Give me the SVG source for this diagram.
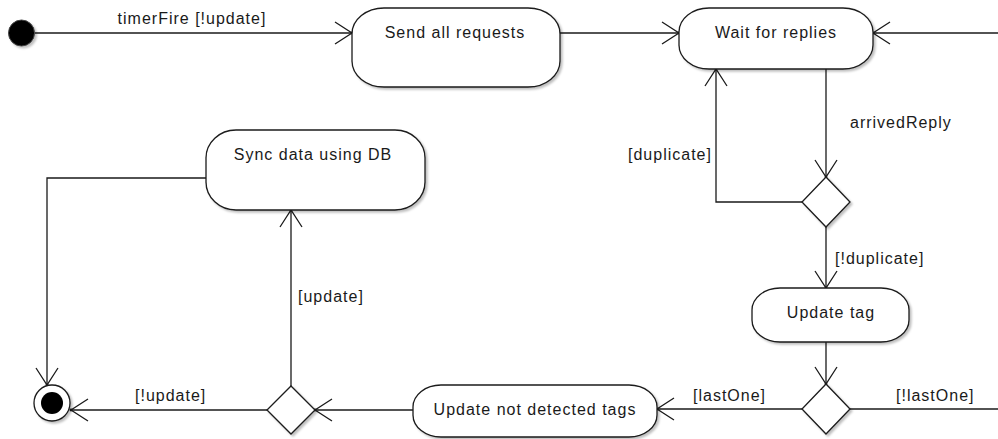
<svg xmlns="http://www.w3.org/2000/svg" width="998" height="439" viewBox="0 0 998 439">
  <style>
    .node { fill: #ffffff; stroke: #1a1a1a; stroke-width: 1.3; filter: url(#shadow); }
    .edge { fill: none; stroke: #1a1a1a; stroke-width: 1.3; }
    .arrow { marker-end: url(#open); }
    text { font-family: "Liberation Sans", Arial, sans-serif; font-size: 16px; fill: #1a1a1a; letter-spacing: 1px; }
    .c { text-anchor: middle; }
  </style>
  <defs>
    <filter id="shadow" x="-10%" y="-10%" width="130%" height="140%">
      <feDropShadow dx="2" dy="2" stdDeviation="1" flood-color="#000" flood-opacity="0.25"/>
    </filter>
    <marker id="open" markerUnits="userSpaceOnUse" markerWidth="24" markerHeight="26" viewBox="-19 -13 21 26" refX="0" refY="0" orient="auto">
      <path d="M-17,-11 L0,0 L-17,11" fill="none" stroke="#1a1a1a" stroke-width="1.3"/>
      <circle cx="0" cy="0" r="1.4" fill="#1a1a1a"/>
    </marker>
  </defs>

  <rect width="998" height="439" fill="#ffffff"/>

  <!-- connectors -->
  <g id="edges">
    <path class="edge arrow" d="M35,33 L352,33"/>
    <text x="192" y="24" class="c">timerFire [!update]</text>

    <path class="edge arrow" d="M560,33 L679,33"/>
    <path class="edge arrow" d="M998,33 L873,33"/>

    <path class="edge arrow" d="M826,69 L826,177"/>
    <text x="850" y="128">arrivedReply</text>

    <path class="edge arrow" d="M802,202 L716,202 L716,69"/>
    <text x="628" y="160">[duplicate]</text>

    <path class="edge arrow" d="M826,227 L826,288"/>
    <text x="835" y="264">[!duplicate]</text>

    <path class="edge arrow" d="M826,342 L826,384"/>

    <path class="edge arrow" d="M802,409 L657,409"/>
    <text x="693" y="401">[lastOne]</text>

    <path class="edge" d="M850,409 L998,409"/>
    <text x="896" y="401">[!lastOne]</text>

    <path class="edge arrow" d="M413,410 L315,410"/>

    <path class="edge arrow" d="M291,386 L291,210"/>
    <text x="298" y="302">[update]</text>

    <path class="edge arrow" d="M267,410 L71,410"/>
    <text x="135" y="401">[!update]</text>

    <path class="edge arrow" d="M206,178 L47,178 L47,385"/>
  </g>

  <!-- start -->
  <g id="start">
    <circle cx="21.5" cy="33" r="13" fill="#000000" stroke="#444" stroke-width="1" filter="url(#shadow)"/>
  </g>

  <g id="send-all-requests">
    <rect class="node" x="352" y="8" width="208" height="79" rx="32" ry="26"/>
    <text x="455" y="38" class="c">Send all requests</text>
  </g>

  <g id="wait-for-replies">
    <rect class="node" x="679" y="8" width="194" height="61" rx="30" ry="24"/>
    <text x="776" y="38" class="c">Wait for replies</text>
  </g>

  <g id="reply-decision">
    <polygon class="node" points="826,177 850,202 826,227 802,202"/>
  </g>

  <g id="update-tag">
    <rect class="node" x="752" y="288" width="157" height="54" rx="28" ry="22"/>
    <text x="831" y="318" class="c">Update tag</text>
  </g>

  <g id="last-decision">
    <polygon class="node" points="826,384 850,409 826,434 802,409"/>
  </g>

  <g id="update-not-detected">
    <rect class="node" x="413" y="385" width="244" height="52" rx="28" ry="22"/>
    <text x="535" y="415" class="c">Update not detected tags</text>
  </g>

  <g id="update-decision">
    <polygon class="node" points="291,386 315,410 291,434 267,410"/>
  </g>

  <g id="sync-data">
    <rect class="node" x="206" y="130" width="219" height="80" rx="30" ry="28"/>
    <text x="313" y="160" class="c">Sync data using DB</text>
  </g>

  <!-- end -->
  <g id="end">
    <circle cx="52" cy="403" r="18" fill="#ffffff" stroke="#1a1a1a" stroke-width="1.3" filter="url(#shadow)"/>
    <circle cx="52" cy="403" r="11" fill="#000000"/>
  </g>
</svg>
